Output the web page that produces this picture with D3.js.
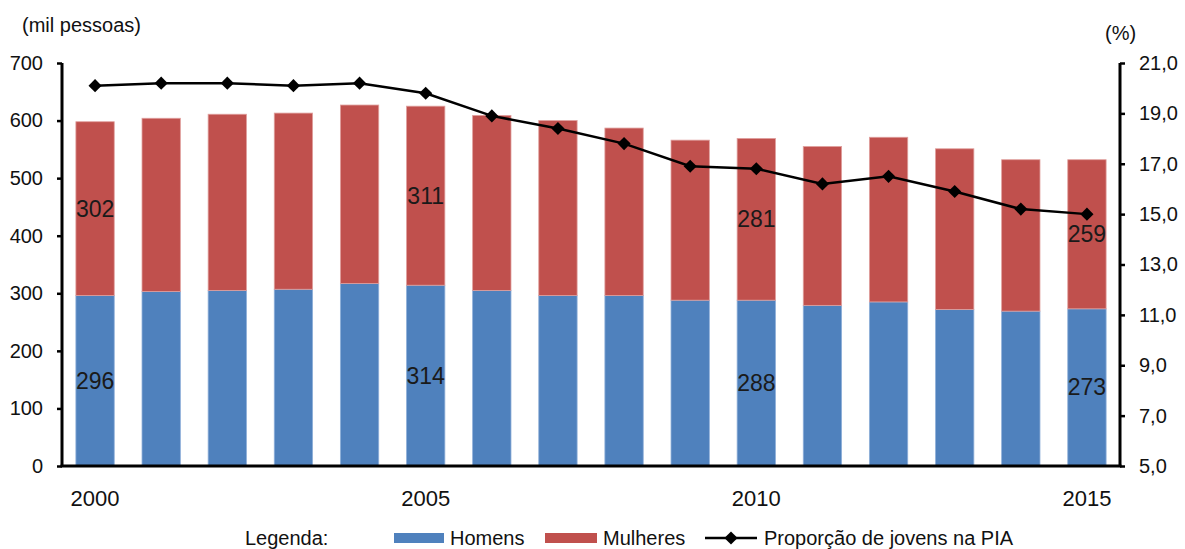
<!DOCTYPE html>
<html>
<head>
<meta charset="utf-8">
<script src="https://cdn.jsdelivr.net/npm/d3@7"></script>
<style>
body { margin: 0; background: #fff; }
text { font-family: "Liberation Sans", Arial, sans-serif; }
</style>
</head>
<body>
<svg width="1185" height="549"></svg>
<script>
// data
var years = [2000, 2001, 2002, 2003, 2004, 2005, 2006, 2007, 2008, 2009, 2010, 2011, 2012, 2013, 2014, 2015];
var homens = [296, 303, 305, 307, 317, 314, 305, 296, 296, 288, 288, 279, 285, 272, 269, 273];
var mulheres = [302, 301, 306, 306, 310, 311, 304, 304, 291, 278, 281, 276, 286, 279, 263, 259];
var proporcao = [20.1, 20.2, 20.2, 20.1, 20.2, 19.8, 18.9, 18.4, 17.8, 16.9, 16.8, 16.2, 16.5, 15.9, 15.2, 15.0];
var labelYears = [2000, 2005, 2010, 2015];
var leftTicks = [0, 100, 200, 300, 400, 500, 600, 700];
var rightTicks = [5, 7, 9, 11, 13, 15, 17, 19, 21];

var svg = d3.select("svg"),
    margin = {top: 63, right: 65, bottom: 83, left: 62},
    width = +svg.attr("width") - margin.left - margin.right,
    height = +svg.attr("height") - margin.top - margin.bottom;

var x = d3.scaleBand().domain(years).range([0, width]).paddingInner(0.42).paddingOuter(0.21),
    y = d3.scaleLinear().domain([0, 700]).range([height, 0]),
    y2 = d3.scaleLinear().domain([5, 21]).range([height, 0]);

var g = svg.append("g")
    .attr("transform", "translate(" + margin.left + "," + margin.top + ")");

var data = years.map(function (yr, i) {
  return {year: yr, h: homens[i], m: mulheres[i], p: proporcao[i]};
});

// stacked bars
g.selectAll(".bar-h").data(data).enter().append("rect")
    .attr("class", "bar-h")
    .attr("x", function (d) { return x(d.year); })
    .attr("width", x.bandwidth())
    .attr("y", function (d) { return y(d.h); })
    .attr("height", function (d) { return y(0) - y(d.h); })
    .attr("fill", "#4f81bd")
    .attr("stroke", "#8fb0d9")
    .attr("stroke-width", 0.8);

g.selectAll(".bar-m").data(data).enter().append("rect")
    .attr("class", "bar-m")
    .attr("x", function (d) { return x(d.year); })
    .attr("width", x.bandwidth())
    .attr("y", function (d) { return y(d.h + d.m); })
    .attr("height", function (d) { return y(d.h) - y(d.h + d.m); })
    .attr("fill", "#c0504d")
    .attr("stroke", "#e0a09e")
    .attr("stroke-width", 0.8);

// value labels
var lab = data.filter(function (d) { return labelYears.indexOf(d.year) >= 0; });
g.selectAll(".lab-h").data(lab).enter().append("text")
    .attr("x", function (d) { return x(d.year) + x.bandwidth() / 2; })
    .attr("y", function (d) { return y(d.h / 2); })
    .attr("dy", "0.35em")
    .attr("text-anchor", "middle")
    .attr("font-size", 23)
    .attr("fill", "#1a1a1a")
    .text(function (d) { return d.h; });

g.selectAll(".lab-m").data(lab).enter().append("text")
    .attr("x", function (d) { return x(d.year) + x.bandwidth() / 2; })
    .attr("y", function (d) { return y(d.h + d.m / 2); })
    .attr("dy", "0.35em")
    .attr("text-anchor", "middle")
    .attr("font-size", 23)
    .attr("fill", "#1a1a1a")
    .text(function (d) { return d.m; });

// line
var line = d3.line()
    .x(function (d) { return x(d.year) + x.bandwidth() / 2; })
    .y(function (d) { return y2(d.p); });

g.append("path")
    .datum(data)
    .attr("fill", "none")
    .attr("stroke", "#000")
    .attr("stroke-width", 2.5)
    .attr("d", line);

var diamond = d3.symbol().type(d3.symbolDiamond2).size(110);
g.selectAll(".pt").data(data).enter().append("path")
    .attr("transform", function (d) {
      return "translate(" + (x(d.year) + x.bandwidth() / 2) + "," + y2(d.p) + ")";
    })
    .attr("d", diamond)
    .attr("fill", "#000");

// axes
var fmt2 = function (d) { return d.toFixed(1).replace(".", ","); };

var yAxis = g.append("g")
    .call(d3.axisLeft(y).tickValues(leftTicks).tickSize(5).tickPadding(14));
var yAxis2 = g.append("g")
    .attr("transform", "translate(" + width + ",0)")
    .call(d3.axisRight(y2).tickValues(rightTicks).tickFormat(fmt2).tickSize(5).tickPadding(14));

[yAxis, yAxis2].forEach(function (a) {
  a.select(".domain").remove();
  a.selectAll(".tick line").attr("stroke", "#000").attr("stroke-width", 2.5);
  a.selectAll(".tick text")
      .attr("font-family", "Liberation Sans, Arial, sans-serif")
      .attr("font-size", 20)
      .attr("fill", "#111");
});

var xAxis = g.append("g")
    .attr("transform", "translate(0," + height + ")")
    .call(d3.axisBottom(x)
      .tickValues(labelYears)
      .tickSize(0)
      .tickPadding(24));
xAxis.select(".domain").remove();
xAxis.selectAll(".tick text")
    .attr("font-family", "Liberation Sans, Arial, sans-serif")
    .attr("font-size", 22)
    .attr("fill", "#111");

// frame lines (left, right, bottom)
g.append("line").attr("x1", 0).attr("x2", 0).attr("y1", 0).attr("y2", height)
    .attr("stroke", "#000").attr("stroke-width", 3);
g.append("line").attr("x1", width).attr("x2", width).attr("y1", 0).attr("y2", height)
    .attr("stroke", "#000").attr("stroke-width", 3);
g.append("line").attr("x1", -1.5).attr("x2", width + 1.5).attr("y1", height).attr("y2", height)
    .attr("stroke", "#000").attr("stroke-width", 3);

// axis titles
svg.append("text").attr("x", 22).attr("y", 32)
    .attr("font-size", 20).attr("fill", "#111").text("(mil pessoas)");
svg.append("text").attr("x", 1105).attr("y", 40)
    .attr("font-size", 20).attr("fill", "#111").text("(%)");

// legend
var leg = svg.append("g").attr("transform", "translate(0,538)");
leg.append("text").attr("x", 245).attr("y", 0).attr("dy", "0.35em")
    .attr("font-size", 20).attr("fill", "#111").text("Legenda:");
leg.append("rect").attr("x", 394).attr("y", -5).attr("width", 50).attr("height", 10).attr("fill", "#4f81bd");
leg.append("text").attr("x", 450).attr("y", 0).attr("dy", "0.35em")
    .attr("font-size", 20).attr("fill", "#111").text("Homens");
leg.append("rect").attr("x", 545).attr("y", -5).attr("width", 52).attr("height", 10).attr("fill", "#c0504d");
leg.append("text").attr("x", 603).attr("y", 0).attr("dy", "0.35em")
    .attr("font-size", 20).attr("fill", "#111").text("Mulheres");
leg.append("line").attr("x1", 705).attr("x2", 757).attr("y1", 0).attr("y2", 0)
    .attr("stroke", "#000").attr("stroke-width", 2.5);
leg.append("path").attr("transform", "translate(731,0)").attr("d", diamond).attr("fill", "#000");
leg.append("text").attr("x", 764).attr("y", 0).attr("dy", "0.35em")
    .attr("font-size", 20).attr("fill", "#111").text("Proporção de jovens na PIA");
</script>
</body>
</html>
